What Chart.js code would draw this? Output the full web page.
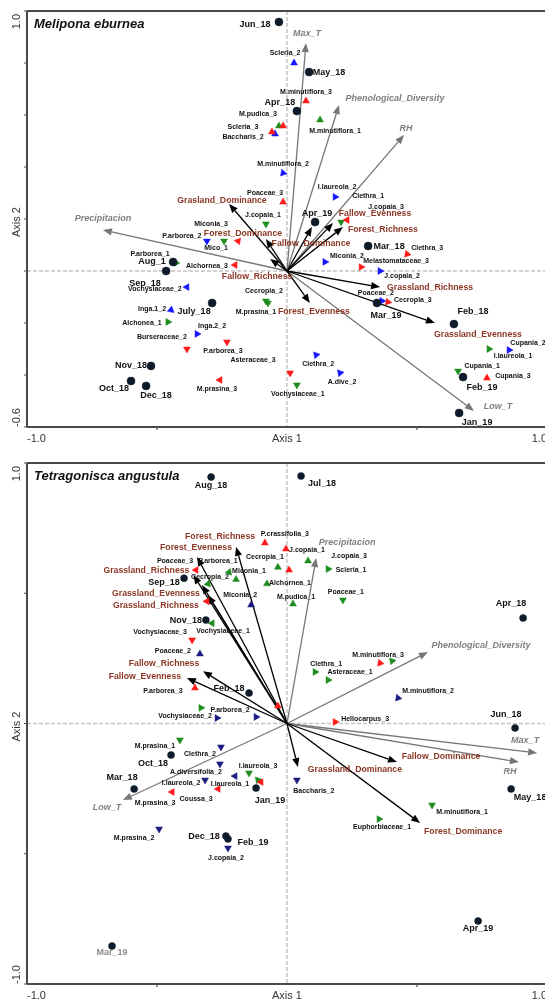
<!DOCTYPE html>
<html>
<head>
<meta charset="utf-8">
<script src="https://cdn.jsdelivr.net/npm/chart.js@4.4.0/dist/chart.umd.min.js"></script>
<style>
  html, body { margin: 0; padding: 0; overflow: hidden; background: #fff; width: 545px; height: 1001px; }
  canvas { position: absolute; left: 0; }
  #melipona { top: 0; }
  #tetragonisca { top: 452px; }
</style>
</head>
<body>
<canvas id="melipona" width="600" height="452"></canvas>
<canvas id="tetragonisca" width="600" height="549"></canvas>
<script>
// ---------- Melipona eburnea: ordination scores ----------
const melMonths = [
  ["Jun_18", -0.031, 0.958], ["May_18", 0.085, 0.765], ["Apr_18", 0.038, 0.615],
  ["Apr_19", 0.108, 0.188], ["Mar_18", 0.312, 0.096], ["Mar_19", 0.346, -0.123],
  ["Feb_18", 0.642, -0.204], ["Feb_19", 0.677, -0.408], ["Jan_19", 0.662, -0.546],
  ["Aug_1", -0.438, 0.035], ["Sep_18", -0.465, 0.000], ["July_18", -0.288, -0.123],
  ["Nov_18", -0.523, -0.365], ["Oct_18", -0.600, -0.423], ["Dec_18", -0.542, -0.442]
];
const melRed = [
  ["M.minutiflora_3", 0.073, 0.654], ["", -0.015, 0.558], ["Scleria_3", -0.058, 0.535],
  ["J.copaia_3", 0.231, 0.196], ["Poaceae_3", -0.015, 0.265], ["Mico_1", -0.188, 0.115],
  ["Alchornea_3", -0.200, 0.023], ["Burseraceae_2", -0.385, -0.300], ["P.arborea_3", -0.231, -0.273],
  ["M.prasina_3", -0.258, -0.419], ["Asteraceae_3", 0.012, -0.392], ["Cupania_3", 0.769, -0.412],
  ["Melastomataceae_3", 0.285, 0.015], ["Clethra_3", 0.462, 0.065], ["Cecropia_3", 0.388, -0.119]
];
const melGreen = [
  ["M.minutiflora_1", 0.127, 0.581], ["M.pudica_3", -0.031, 0.558], ["Clethra_1", 0.208, 0.188],
  ["J.copaia_1", -0.081, 0.181], ["Miconia_3", -0.242, 0.115], ["P.arborea_1", -0.427, 0.031],
  ["Cecropia_2", -0.081, -0.115], ["M.prasina_1", -0.073, -0.123], ["Alchonea_1", -0.458, -0.196],
  ["Vochysiaceae_1", 0.038, -0.438], ["I.laureola_1", 0.777, -0.300], ["Cupania_1", 0.658, -0.385]
];
const melBlue = [
  ["Scleria_2", 0.027, 0.800], ["Baccharis_2", -0.046, 0.527], ["M.minutiflora_2", -0.015, 0.377],
  ["I.laureola_2", 0.185, 0.285], ["P.arborea_2", -0.308, 0.115], ["Vochysiaceae_2", -0.385, -0.062],
  ["Inga.1_2", -0.446, -0.150], ["Inga.2_2", -0.346, -0.242], ["Clethra_2", 0.112, -0.323],
  ["A.dive_2", 0.204, -0.392], ["Cupania_2", 0.854, -0.304], ["Miconia_2", 0.146, 0.035],
  ["J.copaia_2", 0.358, 0.000], ["Poaceae_2", 0.365, -0.115]
];
const melTraits = [
  ["Grasland_Dominance", -0.223, 0.258], ["Forest_Dominance", -0.081, 0.123],
  ["Fallow_Dominance", 0.096, 0.169], ["Fallow_Richness", -0.065, 0.046],
  ["Fallow_Evenness", 0.177, 0.185], ["Forest_Richness", 0.215, 0.169],
  ["Grassland_Richness", 0.358, -0.062], ["Forest_Evenness", 0.088, -0.123],
  ["Grassland_Evenness", 0.569, -0.200]
];
const melEnv = [
  ["Max_T", 0.073, 0.877], ["Phenological_Diversity", 0.200, 0.638], ["RH", 0.450, 0.523],
  ["Precipitacion", -0.708, 0.158], ["Low_T", 0.719, -0.538]
];

// ---------- Tetragonisca angustula: ordination scores ----------
const tetMonths = [
  ["Aug_18", -0.292, 0.946], ["Jul_18", 0.054, 0.950], ["Sep_18", -0.396, 0.558],
  ["Nov_18", -0.312, 0.397], ["Feb_18", -0.146, 0.117], ["Oct_18", -0.446, -0.121],
  ["Mar_18", -0.588, -0.251], ["Jan_19", -0.119, -0.248], ["Dec_18", -0.235, -0.432],
  ["Feb_19", -0.227, -0.443], ["Mar_19", -0.673, -0.854], ["Apr_18", 0.908, 0.405],
  ["Jun_18", 0.877, -0.017], ["May_18", 0.862, -0.251], ["Apr_19", 0.735, -0.758]
];
const tetRed = [
  ["P.crassifolia_3", -0.085, 0.693], ["Poaceae_3", -0.350, 0.589], ["", -0.308, 0.469],
  ["Vochysiaceae_3", -0.365, 0.321], ["J.copaia_1", -0.004, 0.670], ["", 0.008, 0.589],
  ["", 0.358, 0.232], ["", -0.035, 0.067], ["Hellocarpus_3", 0.185, 0.006],
  ["P.arborea_3", -0.354, 0.136], ["I.laureola_1", -0.100, -0.225], ["M.prasina_3", -0.442, -0.263],
  ["Coussa_3", -0.265, -0.251]
];
const tetGreen = [
  ["P.arborea_1", -0.223, 0.581], ["Miconia_1", -0.196, 0.553], ["Cecropia_2", -0.304, 0.536],
  ["Alchornea_1", -0.077, 0.536], ["Cecropia_1", -0.035, 0.600], ["Vochysiaceae_1", -0.288, 0.385],
  ["M.pudica_1", 0.023, 0.459], ["J.copaia_3", 0.081, 0.624], ["Scleria_1", 0.158, 0.593],
  ["Poaceae_1", 0.215, 0.474], ["M.minutiflora_3", 0.404, 0.240], ["Clethra_1", 0.108, 0.198],
  ["Asteraceae_1", 0.158, 0.167], ["M.minutiflora_1", 0.558, -0.313], ["Euphorbiaceae_1", 0.354, -0.367],
  ["", -0.331, 0.060], ["M.prasina_1", -0.412, -0.063], ["I.laureola_3", -0.146, -0.190],
  ["", -0.112, -0.217]
];
const tetNavy = [
  ["Miconia_2", -0.138, 0.455], ["Poaceae_2", -0.335, 0.267], ["M.minutiflora_2", 0.427, 0.098],
  ["Baccharis_2", 0.038, -0.217], ["Vochysiaceae_2", -0.269, 0.021], ["P.arborea_2", -0.119, 0.025],
  ["Clethra_2", -0.254, -0.090], ["A.diversifolia_2", -0.258, -0.155], ["I.laureola_2", -0.315, -0.217],
  ["", -0.200, -0.202], ["M.prasina_2", -0.492, -0.405], ["J.copaia_2", -0.227, -0.478]
];
const tetTraits = [
  ["Forest_Richness", -0.196, 0.678], ["Forest_Evenness", -0.346, 0.639],
  ["Grassland_Richness", -0.360, 0.570], ["Grassland_Evenness", -0.327, 0.532],
  ["Grassland_Richness", -0.304, 0.493], ["Fallow_Richness", -0.323, 0.201],
  ["Fallow_Evenness", -0.385, 0.175], ["Fallow_Dominance", 0.423, -0.148],
  ["Grassland_Dominance", 0.042, -0.167], ["Forest_Dominance", 0.512, -0.382]
];
const tetEnv = [
  ["Precipitacion", 0.112, 0.635], ["Phenological_Diversity", 0.542, 0.274],
  ["Max_T", 0.962, -0.113], ["RH", 0.892, -0.148], ["Low_T", -0.631, -0.294]
];

// ---------- label placement (px from the mark) and triangle turn (deg) ----------
const melMonthLook = [[-24,3],[20,0],[-17,-9],[2,-9],[21,0],[9,13],[19,-13],[19,10],[18,10],
  [-21,0],[-21,13],[-18,9],[-20,0],[-17,8],[10,10]];
const melRedLook = [[0,0,-9],[0,0,0],[0,-29,-5],[30,39,-13],[0,-18,-9],[160,-22,7],[270,-28,1],
  [60,-25,-12],[60,-4,9],[30,-3,9],[180,-37,-13],[0,26,-2],[90,35,-6],[100,20,-6],[100,25,-2]];
const melGreenLook = [[0,15,11],[0,-21,-12],[60,27,-26],[180,-3,-9],[180,-13,-17],[90,-26,-9],
  [180,-2,-10],[180,-12,9],[330,-26,1],[180,1,9],[330,24,7],[300,24,-5]];
const melBlueLook = [[0,-9,-10],[0,-32,3],[340,0,-9],[210,2,-10],[180,-25,-5],[270,-32,2],
  [250,-19,-1],[330,15,-8],[200,2,9],[200,2,9],[330,19,-7],[90,22,-6],[90,22,5],[90,-6,-8]];
const melTraitLook = [[-7,-3],[-23,-5],[-1,17],[-13,18],[42,-9],[40,3],[50,0],[4,9],[43,12]];
const melEnvLook = [[1,-9],[56,-7],[2,-7],[0,-11],[24,-4]];

const tetMonthLook = [[0,8],[21,7],[-20,4],[-20,0],[-20,-5],[-18,8],[-12,-11],[14,12],[-22,0],
  [25,4],[0,7,"#8c8c8c"],[-12,-14],[-9,-13],[19,9],[0,8]];
const tetRedLook = [[0,20,-9],[30,-21,-9],[30,0,0],[60,-32,-8],[0,21,1],[0,0,0],[100,0,0],
  [120,0,0],[90,30,-3],[120,-32,3],[30,-31,2],[30,-17,11],[30,-22,10]];
const tetGreenLook = [[20,-11,-11],[0,13,-8],[20,2,-7],[0,23,-1],[0,-13,-10],[30,11,8],[0,3,-7],
  [0,41,-5],[330,23,1],[300,3,-8],[200,-14,-6],[330,11,-8],[330,22,-8],[300,30,7],[330,3,8],
  [90,0,0],[60,-25,6],[180,9,-7],[200,0,0]];
const tetNavyLook = [[0,-11,-10],[120,-27,-3],[100,30,-7],[180,17,11],[90,-32,-2],[90,-26,-7],
  [60,-21,7],[60,-24,8],[60,-24,3],[30,0,0],[60,-25,9],[180,-2,10]];
const tetTraitLook = [[-16,-10],[-1,-9],[-47,-4],[-46,9],[-52,11],[-39,-8],[-42,-1],[44,-5],[57,3],[43,9]];
const tetEnvLook = [[31,-16],[53,-7],[-12,-12],[-9,9],[-16,7]];

const FONT = '"Liberation Sans", Arial, Helvetica, sans-serif';
const C_RED = '#ff1a1a', C_GREEN = '#1f8c1f', C_BLUE = '#1515ff', C_NAVY = '#1c1c80';
const C_DOT = '#0d1b2a', C_TRAIT = '#8b3626', C_ENV = '#7f7f7f';

function text(ctx, str, x, y, font, color, align) {
  ctx.save();
  ctx.font = font;
  ctx.fillStyle = color;
  ctx.textAlign = align || 'center';
  ctx.textBaseline = 'middle';
  ctx.fillText(str, x, y);
  ctx.restore();
}

function arrow(ctx, x0, y0, x1, y1, color, width) {
  const ang = Math.atan2(y1 - y0, x1 - x0);
  const len = 9, half = 3.6;
  const bx = x1 - Math.cos(ang) * len, by = y1 - Math.sin(ang) * len;
  ctx.save();
  ctx.strokeStyle = color; ctx.fillStyle = color; ctx.lineWidth = width;
  ctx.beginPath(); ctx.moveTo(x0, y0); ctx.lineTo(bx, by); ctx.stroke();
  ctx.beginPath();
  ctx.moveTo(x1, y1);
  ctx.lineTo(bx + Math.sin(ang) * half, by - Math.cos(ang) * half);
  ctx.lineTo(bx - Math.sin(ang) * half, by + Math.cos(ang) * half);
  ctx.closePath(); ctx.fill();
  ctx.restore();
}

function ordinationPlugin(p) {
  return {
    id: 'ordination',
    beforeDatasetsDraw(chart) {
      const { ctx, chartArea: a, scales: { x, y } } = chart;
      const ox = x.getPixelForValue(0), oy = y.getPixelForValue(0);
      ctx.save();
      // dashed zero lines
      ctx.strokeStyle = '#c4c4c4'; ctx.lineWidth = 1.5; ctx.setLineDash([4, 2]);
      ctx.beginPath(); ctx.moveTo(ox, a.top); ctx.lineTo(ox, a.bottom); ctx.stroke();
      ctx.beginPath(); ctx.moveTo(a.left, oy); ctx.lineTo(a.right, oy); ctx.stroke();
      ctx.setLineDash([]);
      // frame
      ctx.strokeStyle = '#4a4a4a'; ctx.lineWidth = 2;
      ctx.beginPath();
      ctx.moveTo(a.left, a.top); ctx.lineTo(a.right, a.top);
      ctx.moveTo(a.left, a.bottom); ctx.lineTo(a.right, a.bottom);
      ctx.moveTo(a.left, a.top); ctx.lineTo(a.left, a.bottom);
      ctx.moveTo(a.right, a.top); ctx.lineTo(a.right, a.bottom);
      ctx.stroke();
      // tick marks
      ctx.lineWidth = 1.2;
      ctx.beginPath();
      for (let v = p.ymin; v <= p.ymax + 1e-9; v += p.ystep) {
        const py = y.getPixelForValue(v);
        ctx.moveTo(a.left - 3, py); ctx.lineTo(a.left, py);
      }
      [-0.5, 0.5].forEach(v => {
        const px = x.getPixelForValue(v);
        ctx.moveTo(px, a.bottom); ctx.lineTo(px, a.bottom + 3);
      });
      ctx.stroke();
      ctx.restore();
      // biplot arrows
      p.env.forEach(e => arrow(ctx, ox, oy, x.getPixelForValue(e[1]), y.getPixelForValue(e[2]), '#777777', 1.3));
      p.traits.forEach(t => arrow(ctx, ox, oy, x.getPixelForValue(t[1]), y.getPixelForValue(t[2]), '#000000', 1.3));
    },
    afterDatasetsDraw(chart) {
      const { ctx, chartArea: a, scales: { x, y } } = chart;
      // point labels
      chart.data.datasets.forEach((ds, i) => {
        const meta = chart.getDatasetMeta(i);
        meta.data.forEach((el, j) => {
          const name = ds.names[j];
          if (!name) return;
          const s = ds.shifts[j];
          text(ctx, name, el.x + s[0], el.y + s[1], ds.labelFont, s[2] || ds.labelColor);
        });
      });
      // arrow labels
      p.env.forEach((e, i) => {
        const s = p.envLook[i];
        text(ctx, e[0], x.getPixelForValue(e[1]) + s[0], y.getPixelForValue(e[2]) + s[1],
          'italic bold 9px ' + FONT, C_ENV);
      });
      p.traits.forEach((t, i) => {
        const s = p.traitLook[i];
        text(ctx, t[0], x.getPixelForValue(t[1]) + s[0], y.getPixelForValue(t[2]) + s[1],
          'bold 8.7px ' + FONT, C_TRAIT);
      });
      // panel title
      text(ctx, p.title, a.left + 7, a.top + 13, 'italic bold 13px ' + FONT, '#111', 'left');
      // axis texts
      const axFont = '11px ' + FONT, axCol = '#333';
      const ly = a.bottom + 12;
      text(ctx, '-1.0', x.getPixelForValue(-1), ly, axFont, axCol, 'left');
      text(ctx, 'Axis 1', x.getPixelForValue(0), ly, axFont, axCol, 'center');
      text(ctx, '1.0', x.getPixelForValue(1), ly, axFont, axCol, 'right');
      ctx.save();
      ctx.translate(a.left - 10, 0);
      ctx.rotate(-Math.PI / 2);
      ctx.font = axFont; ctx.fillStyle = axCol; ctx.textBaseline = 'middle';
      ctx.textAlign = 'right'; ctx.fillText(p.ymax.toFixed(1), -(a.top + 3), 0);
      ctx.textAlign = 'left'; ctx.fillText(p.ymin.toFixed(1), -a.bottom, 0);
      ctx.textAlign = 'center'; ctx.fillText('Axis 2', -((a.top + a.bottom) / 2 + 3), 0);
      ctx.restore();
    }
  };
}

function pointSet(rows, look, color, style, radius, font, labelColor) {
  return {
    data: rows.map(r => ({ x: r[1], y: r[2] })),
    names: rows.map(r => r[0]),
    shifts: look.map(l => style === 'triangle' ? [l[1], l[2]] : l),
    pointStyle: style,
    pointRadius: radius,
    pointRotation: look.map(l => style === 'triangle' ? l[0] : 0),
    backgroundColor: color,
    borderColor: color,
    borderWidth: 0.5,
    showLine: false,
    labelFont: font,
    labelColor: labelColor || '#111'
  };
}

function makePanel(id, p) {
  const monthFont = 'bold 9px ' + FONT, spFont = 'bold 7px ' + FONT;
  new Chart(document.getElementById(id), {
    type: 'scatter',
    data: {
      datasets: [
        pointSet(p.months, p.monthLook, C_DOT, 'circle', p.dotR, monthFont, '#111'),
        pointSet(p.red, p.redLook, C_RED, 'triangle', 4, spFont),
        pointSet(p.green, p.greenLook, C_GREEN, 'triangle', 4, spFont),
        pointSet(p.blue, p.blueLook, p.blueColor, 'triangle', 4, spFont)
      ]
    },
    options: {
      responsive: false,
      animation: false,
      events: [],
      layout: { padding: { left: 27, right: 53, top: 11, bottom: p.padBottom } },
      scales: {
        x: { type: 'linear', min: -1, max: 1, display: false },
        y: { type: 'linear', min: p.ymin, max: p.ymax, display: false }
      },
      plugins: { legend: { display: false }, tooltip: { enabled: false } }
    },
    plugins: [ordinationPlugin(p)]
  });
}

makePanel('melipona', {
  title: 'Melipona eburnea', ymin: -0.6, ymax: 1.0, ystep: 0.2, padBottom: 25, dotR: 4,
  months: melMonths, monthLook: melMonthLook,
  red: melRed, redLook: melRedLook, green: melGreen, greenLook: melGreenLook,
  blue: melBlue, blueLook: melBlueLook, blueColor: C_BLUE,
  traits: melTraits, traitLook: melTraitLook, env: melEnv, envLook: melEnvLook
});

makePanel('tetragonisca', {
  title: 'Tetragonisca angustula', ymin: -1.0, ymax: 1.0, ystep: 0.5, padBottom: 17, dotR: 3.5,
  months: tetMonths, monthLook: tetMonthLook,
  red: tetRed, redLook: tetRedLook, green: tetGreen, greenLook: tetGreenLook,
  blue: tetNavy, blueLook: tetNavyLook, blueColor: C_NAVY,
  traits: tetTraits, traitLook: tetTraitLook, env: tetEnv, envLook: tetEnvLook
});
</script>
</body>
</html>
